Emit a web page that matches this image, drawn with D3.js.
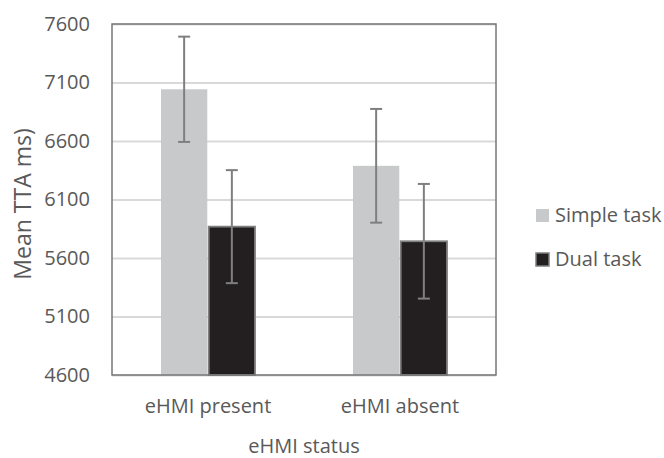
<!DOCTYPE html>
<html>
<head>
<meta charset="utf-8">
<script src="https://cdn.jsdelivr.net/npm/d3@7"></script>
<style>
  body { margin: 0; background: #fff; }
  svg text { font-family: "Open Sans", sans-serif; fill: #595959; }
</style>
</head>
<body>
<svg id="chart" width="664" height="458"></svg>
<script>
var categories = ['eHMI present', 'eHMI absent']
var series = ['Simple task', 'Dual task']
var simpleMeans = [7042, 6388]
var simpleErrs = [450, 486]
var dualMeans = [5868, 5743]
var dualErrs = [483, 490]
var yTicks = [4600, 5100, 5600, 6100, 6600, 7100, 7600]

var colors = { 'Simple task': '#c8c9cb', 'Dual task': '#231f20' }
var margin = { top: 24, right: 168, bottom: 83, left: 112 }
var width = 664, height = 458

var svg = d3.select('#chart')

var yScale = d3.scaleLinear()
  .domain([4600, 7600])
  .range([height - margin.bottom, margin.top])

var x0 = d3.scaleBand()
  .domain(categories)
  .range([margin.left, width - margin.right])

var x1 = d3.scaleBand()
  .domain(series)
  .range([x0.bandwidth() / 2 - 47, x0.bandwidth() / 2 + 47])
  .paddingInner(0.03)

// gridlines
var yGrid = d3.axisLeft(yScale)
  .tickValues(yTicks)
  .tickSize(-(width - margin.left - margin.right))
  .tickFormat('')

svg.append('g')
  .attr('transform', `translate(${margin.left},0)`)
  .call(yGrid)
  .call(g => g.select('.domain').remove())
  .selectAll('line')
  .style('stroke', '#d9d9d9')
  .style('stroke-width', 2)

// y tick labels
var yAxis = d3.axisLeft(yScale)
  .tickValues(yTicks)
  .tickSize(0)
  .tickPadding(22)
  .tickFormat(d3.format('d'))

svg.append('g')
  .attr('transform', `translate(${margin.left},0)`)
  .call(yAxis)
  .call(g => g.select('.domain').remove())
  .selectAll('text')
  .style('font-size', '20px')
  .style('fill', '#595959')

var rows = []
categories.forEach(function(c, i) {
  rows.push({ cat: c, s: 'Simple task', v: simpleMeans[i], e: simpleErrs[i] })
  rows.push({ cat: c, s: 'Dual task', v: dualMeans[i], e: dualErrs[i] })
})

// bars
svg.append('g').selectAll('rect')
  .data(rows)
  .join('rect')
  .attr('x', d => x0(d.cat) + x1(d.s))
  .attr('y', d => yScale(d.v))
  .attr('width', x1.bandwidth())
  .attr('height', d => yScale(4600) - yScale(d.v))
  .style('fill', d => colors[d.s])
  .style('stroke', d => d.s == 'Dual task' ? '#7f7f7f' : 'none')
  .style('stroke-width', 1.8)

// plot border
svg.append('rect')
  .attr('x', margin.left)
  .attr('y', margin.top)
  .attr('width', width - margin.left - margin.right)
  .attr('height', height - margin.top - margin.bottom)
  .style('fill', 'none')
  .style('stroke', '#767676')
  .style('stroke-width', 1.5)

// error bars
var errG = svg.append('g')
  .style('stroke', '#7f7f7f')
  .style('stroke-width', 2)

rows.forEach(function(d) {
  var cx = x0(d.cat) + x1(d.s) + x1.bandwidth() / 2
  errG.append('line')
    .attr('x1', cx).attr('x2', cx)
    .attr('y1', yScale(d.v + d.e)).attr('y2', yScale(d.v - d.e))
  errG.append('line')
    .attr('x1', cx - 6).attr('x2', cx + 6)
    .attr('y1', yScale(d.v + d.e)).attr('y2', yScale(d.v + d.e))
  errG.append('line')
    .attr('x1', cx - 6).attr('x2', cx + 6)
    .attr('y1', yScale(d.v - d.e)).attr('y2', yScale(d.v - d.e))
})

// category labels
svg.append('g').selectAll('text')
  .data(categories)
  .join('text')
  .attr('x', d => x0(d) + x0.bandwidth() / 2)
  .attr('y', 413)
  .attr('text-anchor', 'middle')
  .style('font-size', '20px')
  .text(d => d)

// axis titles
svg.append('text')
  .attr('x', (margin.left + width - margin.right) / 2)
  .attr('y', 453)
  .attr('text-anchor', 'middle')
  .style('font-size', '20px')
  .text('eHMI status')

svg.append('text')
  .attr('transform', 'translate(31,204) rotate(-90)')
  .attr('text-anchor', 'middle')
  .style('font-size', '23px')
  .text('Mean TTA ms)')

// legend
var legend = svg.append('g').selectAll('g')
  .data(series)
  .join('g')
  .attr('transform', (d, i) => `translate(536,${209 + i * 44})`)

legend.append('rect')
  .attr('width', 13)
  .attr('height', 13)
  .style('fill', d => colors[d])
  .style('stroke', d => d == 'Dual task' ? '#7f7f7f' : 'none')
  .style('stroke-width', 1.5)

legend.append('text')
  .attr('x', 19)
  .attr('y', 13)
  .style('font-size', '20px')
  .text(d => d)
</script>
</body>
</html>
